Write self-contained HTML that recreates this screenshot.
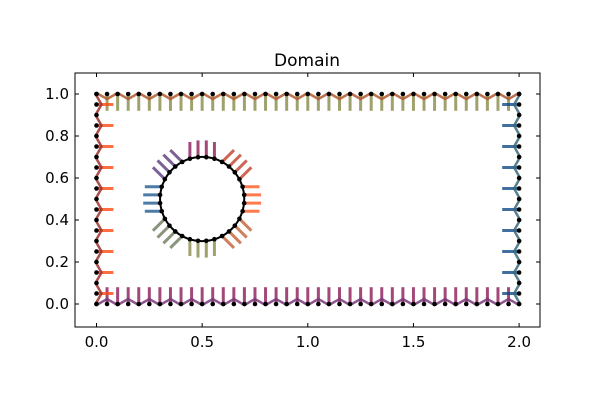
<!DOCTYPE html>
<html><head><meta charset="utf-8"><style>
body{margin:0;background:#fff;width:600px;height:400px;overflow:hidden}
svg{display:block;font-family:"DejaVu Sans","Liberation Sans",sans-serif}
</style></head><body>
<svg id="c" width="600" height="400">
<text x="307" y="66" font-size="17" text-anchor="middle">Domain</text>
<g id="marks"></g>
<rect x="75" y="73" width="465" height="254" fill="none" stroke="#000" stroke-width="1"/>
<g id="axes"></g>
</svg>
<script>
const xTicks=[0.0,0.5,1.0,1.5,2.0];
const xTickLabels=["0.0","0.5","1.0","1.5","2.0"];
const yTicks=[0.0,0.2,0.4,0.6,0.8,1.0];
const yTickLabels=["0.0","0.2","0.4","0.6","0.8","1.0"];
const circleCenter=[0.5,0.5];
const circleRadius=0.2;
const circleCount=32;
const hSpacing=0.05;
const vSpacing=0.05;
const normalLength=0.08;

const X=v=>96.5+v*211.3;
const Y=v=>304-v*210;
const NS="http://www.w3.org/2000/svg";
const marks=document.getElementById('marks');
const axes=document.getElementById('axes');
function mk(tag,attrs,parent){const e=document.createElementNS(NS,tag);for(const k in attrs)e.setAttribute(k,attrs[k]);parent.appendChild(e);return e;}
function normal(x,y,dx,dy,col,name){
  const l=mk('line',{x1:X(x),y1:Y(y),x2:X(x+dx*normalLength),y2:Y(y+dy*normalLength),stroke:col,'stroke-width':3,'stroke-opacity':0.8},marks);
  
  
}
const pts=[];
for(let i=0;i<=Math.round(2/hSpacing);i++){
  const x=i*hSpacing;
  if(i>0&&i<40){normal(x,1,0,-1,'#8a8a4a','normal-top');normal(x,0,0,1,'#8b1a5a','normal-bottom');}
  pts.push([x,1],[x,0]);
}
for(let j=0;j<=Math.round(1/vSpacing);j++){
  const y=j*vSpacing;
  if(j%2==1){normal(0,y,1,0,'#ff4a10','normal-left');normal(2,y,-1,0,'#0f4a8a','normal-right');}
  pts.push([0,y],[2,y]);
}
// zigzag boundary lines
function zig(pp,col){mk('polyline',{points:pp.join(' '),fill:'none',stroke:col,'stroke-width':2.5,'stroke-opacity':0.85},marks);}
zig([...Array(41).keys()].map(i=>X(i*hSpacing)+','+(Y(1)+(i%2?5:-1))),'#b05a30');
zig([...Array(41).keys()].map(i=>X(i*hSpacing)+','+(Y(0)+(i%2?-5:1))),'#7a3a7a');
zig([...Array(21).keys()].map(j=>(X(0)+(j%2?5:-1))+','+Y(j*vSpacing)),'#a0302a');
zig([...Array(21).keys()].map(j=>(X(2)+(j%2?-5:1))+','+Y(j*vSpacing)),'#3a6a7a');
// circle
const cpts=[];
for(let k=0;k<circleCount;k++){
  const a=2*Math.PI*(k+0.5)/circleCount;
  const px=circleCenter[0]+circleRadius*Math.cos(a), py=circleCenter[1]+circleRadius*Math.sin(a);
  const q=Math.round(a/(Math.PI/4))*(Math.PI/4);
  let dx=Math.cos(q),dy=Math.sin(q);
  let col=dx>0.5?'#ff5a20':dx<-0.5?'#1f5a8f':dy>0?'#8b1a5a':'#8a8a4a';
  if(Math.abs(dx)>0.1&&Math.abs(dy)>0.1){col=dy>0?(dx>0?'#c0402a':'#5a3a7a'):(dx>0?'#c06030':'#6a7a5a');}
  normal(px,py,dx,dy,col,'normal-circle');
  pts.push([px,py]);cpts.push([px,py]);
}
mk('circle',{cx:X(0.5),cy:Y(0.5),r:0.2*210.5,fill:'none',stroke:'#000','stroke-width':2},marks);
pts.forEach(p=>{const d=mk('circle',{cx:X(p[0]),cy:Y(p[1]),r:2.3,fill:'#000'},marks);

});
xTicks.forEach((v,i)=>{
  mk('line',{x1:X(v),y1:327,x2:X(v),y2:323,stroke:'#000'},axes);
  mk('line',{x1:X(v),y1:73,x2:X(v),y2:77,stroke:'#000'},axes);
  const t=mk('text',{x:X(v),y:347,'font-size':15,'text-anchor':'middle'},axes);t.textContent=xTickLabels[i];
  
  
});
yTicks.forEach((v,i)=>{
  mk('line',{x1:75,y1:Y(v),x2:79,y2:Y(v),stroke:'#000'},axes);
  mk('line',{x1:540,y1:Y(v),x2:536,y2:Y(v),stroke:'#000'},axes);
  const t=mk('text',{x:69,y:Y(v)+5,'font-size':15,'text-anchor':'end'},axes);t.textContent=yTickLabels[i];
  
  
});
</script>
</body></html>
